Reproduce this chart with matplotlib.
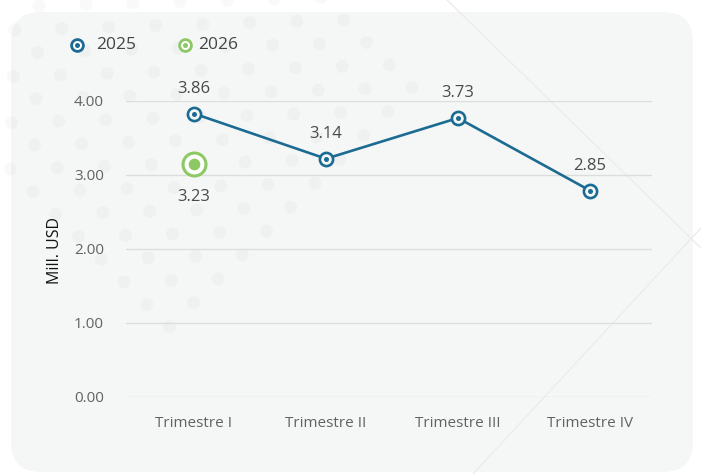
import matplotlib
matplotlib.use("Agg")
import matplotlib.pyplot as plt
from matplotlib.patches import FancyBboxPatch, Circle
from matplotlib.lines import Line2D

# ---------------- data ----------------
categories = ["Trimestre I", "Trimestre II", "Trimestre III", "Trimestre IV"]
values_2025 = [3.83, 3.22, 3.77, 2.79]
labels_2025 = ["3.86", "3.14", "3.73", "2.85"]
values_2026 = [3.15]
labels_2026 = ["3.23"]
yticks = [0, 1, 2, 3, 4]
ytick_labels = ["0.00", "1.00", "2.00", "3.00", "4.00"]
series_names = ["2025", "2026"]
y_title = "Mill. USD"

# ---------------- style ----------------
BLUE = "#1c6b92"
GREEN = "#8cc864"
BG = "#f5f7f7"
GRID = "#dcdede"
TXT = "#626262"
plt.rcParams["font.family"] = ["Open Sans", "DejaVu Sans"]

W, H = 701, 474
fig = plt.figure(figsize=(W / 100, H / 100), dpi=100)
fig.patch.set_facecolor("white")

# background decoration (pixel coordinates)
bg = fig.add_axes([0, 0, 1, 1], zorder=0)
bg.set_xlim(0, W)
bg.set_ylim(H, 0)
bg.axis("off")
bg.add_patch(FancyBboxPatch((11, 12), 682, 460,
                            boxstyle="round,pad=0,rounding_size=30",
                            fc=BG, ec="none"))
for r in range(0, 16):
    for c in range(-1, 12):
        off = 39 - 0.75 * r + (23.5 if r % 2 else 0)
        x = off + 47 * c
        y = 4 + 23.2 * r - 0.03 * (x - 100)
        if y - x <= 162 and x + y <= 503 and x - y <= 330 and x > -8:
            bg.add_patch(Circle((x, y), 6.5, fc="black", alpha=0.025, ec="none"))
bg.plot([447, 701], [0, 248], color="#ececec", lw=1)
bg.plot([473, 701], [474, 228], color="#ececec", lw=1)

# main axes
ax = fig.add_axes([126 / W, 1 - 397 / H, 526 / W, 296 / H], zorder=1)
ax.set_facecolor("none")
xs = list(range(len(categories)))
ax.set_xlim(-0.515, 3.47)
ax.set_ylim(0, 4)
ax.set_yticks(yticks)
ax.set_yticklabels(ytick_labels)
ax.set_xticks(xs)
ax.set_xticklabels(categories)
ax.tick_params(axis="both", length=0, colors=TXT, labelsize=11)
ax.tick_params(axis="y", pad=16)
ax.tick_params(axis="x", pad=14)
ax.grid(axis="y", color=GRID, lw=1)
ax.set_axisbelow(True)
for s in ax.spines.values():
    s.set_visible(False)

# 2025 series
ax.plot(xs, values_2025, color=BLUE, lw=1.9, zorder=3, clip_on=False)
ax.plot(xs, values_2025, ls="none", marker="o", ms=9.5, mfc=BG, mec=BLUE,
        mew=1.9, zorder=4, clip_on=False)
ax.plot(xs, values_2025, ls="none", marker="o", ms=3.6, mfc=BLUE, mec=BLUE,
        mew=0, zorder=5, clip_on=False)
for x, v, lab in zip(xs, values_2025, labels_2025):
    ax.annotate(lab, (x, v), xytext=(0, 18), textcoords="offset points",
                ha="center", va="center", fontsize=12, color="#4a4a4a")

# 2026 series
xs26 = xs[:len(values_2026)]
ax.plot(xs26, values_2026, ls="none", marker="o", ms=16.5, mfc="white", mec=GREEN,
        mew=2.2, zorder=4, clip_on=False)
ax.plot(xs26, values_2026, ls="none", marker="o", ms=8.4, mfc=GREEN, mec=GREEN,
        mew=0, zorder=5, clip_on=False)
for x, v, lab in zip(xs26, values_2026, labels_2026):
    ax.annotate(lab, (x, v), xytext=(0, -24), textcoords="offset points",
                ha="center", va="center", fontsize=12, color="#4a4a4a")

# y title
fig.text(55 / W, 1 - 250 / H, y_title, rotation=90, ha="center", va="center",
         fontsize=11.5, color="#111111")

# legend (manual)
leg_items = [(77, 96, series_names[0], BLUE), (185, 198, series_names[1], GREEN)]
for mx, tx, name, col in leg_items:
    fig.add_artist(Line2D([mx / W], [1 - 45 / H], transform=fig.transFigure,
                          marker="o", ms=8.5, mfc="white", mec=col, mew=2.0, ls="none"))
    fig.add_artist(Line2D([mx / W], [1 - 45 / H], transform=fig.transFigure,
                          marker="o", ms=3.6, mfc=col, mec=col, mew=0, ls="none"))
    fig.text(tx / W, 1 - 45 / H, name, ha="left", va="center", fontsize=12.5,
             color="#444444")

fig.savefig("out.png", dpi=100)
